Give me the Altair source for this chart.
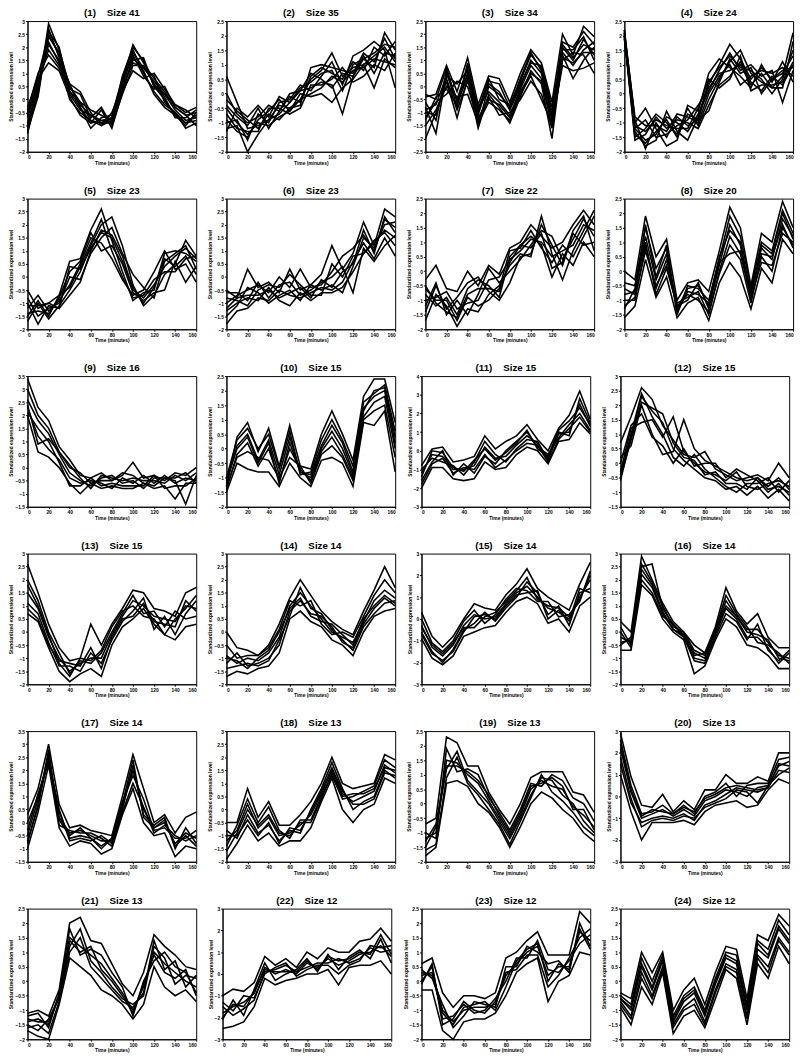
import altair as alt
import pandas as pd

TIMES = [0, 10, 20, 30, 40, 50, 60, 70, 80, 90, 100, 110, 120, 130, 140, 150, 160]

P01 = [
    [-1.3, 0.3, 2.9, 1.9, 0.5, -0.1, -0.8, -0.9, -0.9, 0.6, 1.8, 1.2, 0.7, 0.2, -0.4, -0.8, -0.7],
    [-0.5, 0.9, 2.5, 1.7, 0.2, -0.4, -0.6, -0.9, -0.7, 0.7, 2.1, 1.4, 0.8, 0.3, -0.3, -0.6, -0.5],
    [-0.9, 0.5, 2.2, 1.4, 0.6, 0.3, -0.5, -1.0, -0.8, 0.4, 1.5, 1.6, 0.5, 0.0, -0.6, -0.9, -0.8],
    [-0.3, 0.8, 1.4, 1.1, 0.1, -0.6, -0.9, -0.4, -1.1, 0.3, 1.1, 0.8, 1.0, 0.4, -0.2, -0.5, -0.3],
    [-1.1, 0.2, 2.6, 2.0, 0.3, -0.3, -1.1, -0.7, -0.6, 0.8, 1.9, 1.0, 0.3, -0.2, -0.5, -1.1, -0.9],
    [-0.7, 0.6, 1.9, 1.3, 0.4, 0.2, -0.7, -0.3, -1.0, 0.2, 1.3, 1.3, 0.6, 0.1, -0.7, -0.7, -0.4],
    [-1.0, 0.4, 2.4, 1.8, 0.5, -0.2, -0.6, -0.8, -0.9, 0.6, 1.7, 0.9, 0.4, 0.5, -0.3, -0.6, -1.0],
    [-0.6, 0.7, 2.1, 1.5, 0.0, -0.5, -0.8, -1.0, -0.5, 0.5, 1.4, 1.2, 0.9, -0.1, -0.5, -0.9, -0.6],
    [-0.4, 1.0, 1.7, 1.2, 0.3, -0.1, -0.4, -0.6, -0.8, 0.9, 2.0, 1.5, 0.5, 0.2, -0.2, -0.4, -0.7],
    [-1.2, 0.1, 2.7, 1.6, 0.6, -0.3, -0.9, -0.8, -0.7, 0.3, 1.6, 1.1, 0.2, -0.3, -0.6, -1.0, -0.5],
]
P02 = [
    [0.6, -0.3, -1.2, -1.1, -0.9, -0.4, -0.5, -0.2, 0.5, 0.8, 1.4, 0.6, 0.9, 1.0, 1.3, 1.6, 1.1],
    [-1.2, -1.1, -2.0, -1.4, -0.9, -0.7, -0.3, 0.1, 0.2, 0.4, 0.3, -0.7, 0.6, 1.2, 0.9, 2.1, 1.5],
    [-0.4, -0.8, -1.1, -0.5, -1.2, -0.6, -0.1, -0.3, 0.6, 0.9, 0.7, 0.5, 1.1, 0.8, 1.6, 1.3, 1.8],
    [-0.9, -1.3, -1.5, -0.9, -0.6, -0.2, -0.6, 0.0, -0.1, 0.0, -0.3, 0.2, 0.5, 1.0, 0.2, 1.2, 0.9],
    [-0.2, -0.6, -0.9, -1.2, -0.7, -0.9, -0.5, -0.4, 0.9, 1.0, 0.9, 0.8, 0.7, 1.4, 1.1, 1.9, 1.2],
    [-1.0, -0.9, -1.6, -0.7, -1.0, -0.3, -0.2, 0.3, 0.1, 0.6, 1.1, 0.3, 1.3, 1.5, 1.8, 1.5, 0.2],
    [-0.7, -1.2, -1.3, -1.3, -0.5, -0.5, -0.7, -0.5, 0.3, 0.3, 0.5, 0.9, 0.4, 0.6, 1.0, 0.8, 1.4],
    [-1.3, -0.5, -0.8, -0.4, -0.8, -0.1, -0.3, 0.2, 0.4, 0.7, 0.8, 0.1, 1.0, 1.2, 1.4, 1.7, 1.6],
    [-0.5, -1.0, -1.4, -1.0, -1.1, -0.8, -0.6, -0.2, 0.0, 0.2, 0.6, 0.4, 0.8, 0.9, 1.2, 1.1, 1.0],
    [0.0, -0.7, -1.0, -0.8, -0.4, -0.6, 0.0, 0.1, 0.7, 0.5, 0.2, 0.7, 0.6, 1.3, 0.7, 1.4, 1.3],
]
P03 = [
    [-0.4, -0.3, 0.8, -0.2, 1.1, -0.7, 0.4, 0.3, -0.6, 0.5, 1.4, 0.9, -0.6, 2.0, 1.2, 2.3, 1.9],
    [-2.0, -1.0, 0.2, -1.2, 0.3, -1.6, -0.3, -0.8, -1.4, -0.4, 0.6, 0.1, -2.0, 1.2, 0.3, 1.0, 1.5],
    [-0.8, -1.8, 0.5, -0.5, 0.7, -1.0, 0.1, -0.2, -0.9, 0.0, 1.0, 0.5, -1.2, 1.5, 1.0, 1.8, 1.2],
    [-1.2, -0.6, -0.3, 0.2, 0.0, -1.3, -0.4, -1.1, -1.0, -0.5, 0.2, -0.3, -1.6, 1.0, 1.3, 1.2, 0.5],
    [-0.6, -1.3, 0.6, -0.8, 0.9, -0.9, 0.3, -0.5, -0.7, 0.2, 1.2, 0.7, -1.0, 1.7, 1.5, 2.1, 1.6],
    [-1.5, -0.9, 0.0, -0.4, -0.3, -1.4, -0.6, -0.9, -1.3, -0.3, 0.4, -0.5, -1.4, 0.8, 0.6, 0.7, 0.9],
    [-0.3, -0.5, 0.7, -0.6, 0.5, -1.1, 0.2, 0.1, -0.8, 0.3, 1.3, 0.6, -1.1, 1.6, 1.1, 1.6, 1.4],
    [-1.0, -1.1, 0.3, -0.9, 0.2, -0.8, -0.2, -0.6, -1.1, -0.1, 0.8, 0.3, -1.3, 1.3, 0.8, 1.4, 1.7],
    [-0.9, -0.7, 0.4, 0.1, 0.6, -1.5, 0.0, -0.3, -0.8, 0.1, 0.9, 0.8, -0.8, 1.4, 1.4, 1.9, 1.0],
    [-1.3, -0.4, -0.1, -0.7, 0.4, -1.2, -0.5, -0.7, -1.2, -0.2, 0.5, 0.2, -1.5, 1.1, 0.9, 1.3, 1.3],
]
P04 = [
    [2.2, -0.9, -1.9, -1.0, -1.5, -0.8, -1.1, -0.9, 0.3, 1.0, 1.7, 1.2, 0.5, 0.9, 0.5, 0.7, 1.3],
    [2.0, -1.5, -1.2, -0.7, -1.0, -1.4, -0.5, -1.1, -0.2, 0.5, 1.1, 1.5, 0.7, 0.4, 0.2, 0.6, 2.1],
    [1.9, -1.2, -1.6, -1.4, -0.8, -1.0, -1.3, -0.7, 0.1, 0.8, 1.4, 0.8, 1.0, 0.6, 0.8, -0.3, 0.8],
    [2.1, -1.0, -0.5, -1.2, -1.8, -1.6, -0.4, -0.6, 0.7, 1.2, 0.9, 0.6, 0.2, 1.0, 0.4, 1.1, 0.4],
    [2.0, -1.6, -1.4, -0.8, -1.2, -0.9, -1.0, -1.2, -0.4, 0.3, 0.6, 1.1, 0.4, 0.1, 0.6, 0.3, 1.0],
    [2.2, -1.3, -1.8, -1.6, -0.6, -1.3, -1.6, -0.8, 0.4, 0.9, 1.3, 0.9, 0.8, 0.5, 0.0, 0.5, 1.5],
    [2.1, -0.8, -1.1, -1.1, -1.3, -0.7, -0.8, -1.0, 0.0, 0.6, 1.0, 0.3, 0.6, 0.8, 0.7, 0.9, 0.6],
    [1.9, -1.1, -1.3, -0.9, -1.1, -1.2, -1.2, -0.5, 0.5, 0.2, 0.5, 1.3, 0.1, 0.3, 0.3, 0.4, 1.1],
    [2.1, -1.4, -1.7, -1.3, -0.9, -1.5, -0.7, -0.9, -0.6, 0.4, 1.2, 0.7, 0.9, 0.0, 0.5, 0.8, 0.9],
    [2.0, -1.2, -0.9, -1.5, -1.4, -1.1, -0.9, -0.4, 0.2, 0.7, 0.8, 1.0, 0.3, 0.7, 0.2, 0.2, 1.8],
]
P05 = [
    [-0.5, -1.2, -1.0, -0.7, 0.6, 0.7, 1.8, 2.6, 1.4, 0.2, -0.9, -0.6, -0.5, 0.9, 1.0, 0.9, 0.6],
    [-1.7, -1.0, -1.6, -1.1, -0.5, 0.2, 1.2, 2.0, 2.3, 1.2, -0.3, -1.1, -0.7, 0.1, 0.5, 1.4, 0.8],
    [-1.2, -0.7, -1.3, -0.9, -0.3, 0.5, 1.5, 1.3, 0.7, -0.1, -0.7, -0.5, 0.2, 1.0, 0.3, 0.5, -0.2],
    [-1.0, -1.8, -1.1, -1.2, -0.7, -0.2, 1.0, 1.8, 1.6, 0.8, -0.5, -0.8, -0.3, 0.4, 0.8, 1.1, 0.7],
    [-1.4, -1.3, -1.4, -0.8, 0.2, 0.6, 1.7, 1.0, 1.2, 0.5, -0.6, -0.9, -0.6, -0.5, 0.6, -0.2, 0.4],
    [-0.8, -1.5, -1.2, -1.0, 0.0, -0.1, 0.9, 1.5, 1.9, 0.9, 0.1, -0.4, -0.8, 0.6, 0.9, 1.2, 0.3],
    [-1.5, -0.9, -1.5, -0.7, -0.4, 0.4, 1.3, 2.2, 1.0, 0.0, -0.8, -0.7, -0.1, 0.2, 0.2, 0.7, 0.8],
    [-1.1, -1.1, -1.0, -1.2, 0.4, 0.3, 1.1, 1.7, 1.5, 0.6, -0.4, -1.0, -0.4, 0.7, 0.4, 0.8, 0.1],
]
P06 = [
    [-0.5, -0.8, 0.3, -0.4, -0.2, -0.6, 0.3, -0.5, -0.3, 0.1, 1.2, 0.3, 0.9, 2.1, 1.2, 2.6, 2.3],
    [-1.8, -1.3, -1.2, -0.8, -0.9, -0.5, -0.7, -0.8, -0.6, -0.4, -0.5, -0.2, 0.6, 1.3, 0.7, 1.5, 0.8],
    [-1.0, -0.7, -0.5, -0.3, -0.6, 0.0, -0.4, 0.3, -0.4, -0.3, 0.2, 0.8, 1.1, 1.6, 1.0, 2.2, 1.9],
    [-1.3, -1.0, -0.8, -0.9, -0.4, -0.9, -1.1, -0.6, -0.9, -0.6, -0.6, -0.4, 0.2, 0.9, 1.3, 1.8, 1.5],
    [-0.6, -0.6, -0.9, -0.2, -0.8, -0.3, -0.2, -0.7, -0.5, -0.2, 0.0, 0.4, -0.6, 1.1, 0.6, 1.2, 1.6],
    [-1.5, -1.1, -0.4, -0.6, -1.0, -0.7, -0.5, -0.9, -0.3, -0.5, -0.3, -0.6, 0.4, 1.5, 1.1, 2.0, 2.1],
    [-0.8, -0.9, -1.1, -0.5, -0.3, -0.4, 0.1, -0.3, -0.7, -0.7, 0.5, 0.0, 0.8, 0.9, 1.4, 1.7, 1.2],
    [-1.2, -0.8, -0.7, -0.7, -0.5, -0.8, -0.6, -0.4, -0.8, -0.1, -0.4, 0.2, 0.5, 1.8, 0.9, 2.3, 1.7],
]
P07 = [
    [-0.3, 0.2, -0.6, -0.7, 0.0, -0.5, 0.2, -0.1, 0.8, 1.0, 1.6, 1.2, 0.8, 1.0, 1.6, 2.1, 1.6],
    [-1.7, -0.8, -1.2, -1.9, -1.3, -1.4, -0.8, -0.5, 0.2, 0.6, 0.5, 1.9, 0.6, -0.3, 0.7, 1.4, 2.1],
    [-0.8, -1.2, -0.9, -1.5, -0.6, -0.3, -0.5, -0.9, 0.5, 0.9, 1.2, 0.9, -0.2, 0.6, 0.2, 1.0, 0.5],
    [-1.2, -0.4, -1.5, -1.0, -1.5, -0.8, 0.1, -0.4, 0.0, 0.4, 0.9, 1.4, 1.2, 0.4, 1.1, 1.8, 1.2],
    [-0.6, -1.0, -1.0, -1.7, -0.9, -1.2, -1.0, -0.6, 0.7, 0.8, 1.4, 0.8, 0.3, 0.9, 0.5, 1.2, 1.9],
    [-1.4, -0.5, -1.3, -0.9, -0.4, -0.2, -0.7, -1.0, -0.4, 0.5, 0.6, 1.6, 0.9, 0.2, 1.3, 0.9, 1.0],
    [-1.0, -0.9, -0.7, -1.3, -1.1, -1.0, -0.3, -0.2, 0.4, 0.7, 1.1, 1.0, 0.5, 0.7, 0.9, 1.6, 1.4],
    [-0.5, -1.1, -1.4, -1.6, -0.8, -0.6, -0.6, -0.7, 0.3, 0.9, 0.8, 1.3, 0.1, 0.3, 1.4, 1.9, 0.7],
]
P08 = [
    [0.0, -0.3, 1.9, 0.5, 1.1, -1.0, -0.4, -0.3, -0.7, 0.7, 2.2, 1.5, -0.5, 1.3, 1.0, 2.4, 1.5],
    [-1.6, -1.2, 0.4, -0.9, -0.2, -1.6, -1.1, -0.9, -1.7, -0.4, 0.3, -0.2, -1.3, 0.1, -0.4, 1.1, 0.6],
    [-0.8, -0.7, 1.2, -0.3, 0.6, -1.3, -0.6, -0.5, -1.2, 0.2, 1.6, 0.9, -0.8, 0.8, 0.4, 1.8, 1.2],
    [-1.2, -0.9, 0.7, -0.5, 0.2, -1.2, -0.8, -1.0, -1.4, -0.1, 0.9, 0.4, -1.1, 0.5, 0.0, 1.5, 0.9],
    [-0.4, -0.5, 1.5, 0.1, 0.8, -1.5, -0.5, -0.6, -1.0, 0.4, 1.9, 1.2, -0.6, 1.0, 0.7, 2.1, 1.3],
    [-1.0, -1.0, 0.9, -0.6, 0.4, -1.1, -0.9, -0.7, -1.5, 0.0, 1.2, 0.6, -0.9, 0.3, 0.2, 1.3, 1.0],
    [-0.6, -0.8, 1.6, -0.2, 0.9, -1.4, -0.7, -0.8, -1.1, 0.5, 1.4, 1.0, -1.0, 0.9, 0.6, 2.0, 1.1],
    [-1.3, -0.6, 1.0, -0.8, 0.1, -1.2, -1.0, -0.4, -1.3, 0.3, 0.6, 0.7, -0.7, 0.6, 0.5, 1.6, 0.8],
]
P09 = [
    [3.4, 2.3, 1.8, 0.8, 0.3, -0.3, -0.4, -0.2, -0.5, -0.3, 0.2, -0.4, -0.3, -0.5, -0.2, -0.3, 0.0],
    [2.0, 0.6, 0.4, 0.0, -0.6, -1.0, -0.6, -0.8, -0.7, -0.8, -0.8, -0.6, -0.8, -0.7, -1.2, -0.6, -0.6],
    [2.6, 1.8, 1.3, 0.5, -0.2, -0.5, -0.7, -0.4, -0.3, -0.6, -0.5, -0.8, -0.4, -0.4, -0.5, -1.4, -0.3],
    [2.3, 1.2, 0.7, 0.3, -0.4, -0.6, -0.5, -0.6, -0.8, -0.4, -0.6, -0.3, -0.6, -0.3, -0.6, -0.4, -0.5],
    [3.0, 2.0, 1.5, 0.6, 0.1, -0.4, -0.8, -0.3, -0.4, -0.5, -0.4, -0.5, -0.5, -0.6, -0.3, -0.5, -0.2],
    [2.1, 1.5, 1.0, 0.2, -0.7, -0.7, -0.4, -0.7, -0.6, -0.7, -0.7, -0.7, -0.3, -0.8, -0.7, -0.7, -0.4],
    [2.4, 0.9, 1.1, 0.6, 0.0, -0.2, -0.6, -0.5, -0.5, -0.2, -0.3, -0.6, -0.7, -0.4, -0.4, -0.2, -0.6],
]
P10 = [
    [-1.3, 0.4, 0.9, -0.1, 0.7, -0.6, 0.8, -0.6, -0.7, 0.5, 1.3, 0.5, -0.4, 1.8, 2.4, 2.4, 0.9],
    [-1.5, -0.5, -0.7, -0.8, -0.8, -1.3, -0.5, -1.0, -1.3, -0.4, -0.3, -0.5, -1.3, 0.9, 0.8, 1.3, -0.8],
    [-1.2, 0.1, 0.5, -0.4, 0.3, -0.9, 0.4, -0.8, -0.9, 0.1, 0.8, 0.2, -0.8, 1.3, 2.0, 2.1, 0.4],
    [-1.4, -0.2, 0.2, -0.6, 0.0, -1.1, 0.0, -0.7, -1.1, -0.1, 0.4, -0.2, -1.0, 1.1, 1.6, 1.8, 0.0],
    [-1.0, 0.3, 0.7, 0.0, 0.5, -0.7, 0.6, -0.9, -0.8, 0.3, 1.0, 0.3, -0.6, 1.6, 1.9, 2.2, 0.6],
    [-1.3, -0.3, -0.1, -0.3, -0.4, -1.0, -0.3, -0.6, -1.2, -0.2, 0.1, -0.3, -1.1, 1.0, 1.3, 1.5, -0.3],
    [-1.1, 0.0, 0.4, -0.5, 0.2, -1.2, 0.2, -0.8, -1.0, 0.0, 0.6, 0.0, -0.9, 1.4, 1.8, 2.0, 0.2],
]
P11 = [
    [-0.8, 0.1, 0.2, -0.6, -0.5, -0.3, 0.8, 0.1, 0.5, 0.8, 1.4, 0.6, 0.0, 1.2, 1.9, 3.2, 1.7],
    [-2.0, -0.9, -0.9, -1.5, -1.6, -1.5, -0.6, -1.0, -0.9, -0.2, 0.2, 0.0, -0.7, 0.5, 0.6, 1.5, 0.9],
    [-1.2, -0.2, -0.3, -1.0, -1.0, -0.8, 0.2, -0.4, -0.3, 0.3, 0.8, 0.4, -0.4, 0.9, 1.0, 2.5, 1.3],
    [-1.6, -0.6, 0.0, -1.3, -0.7, -1.2, -0.3, -0.7, 0.0, 0.5, 1.0, 0.2, -0.2, 0.7, 1.4, 2.0, 1.1],
    [-1.0, -0.4, -0.6, -0.8, -1.3, -0.6, 0.5, -0.2, -0.6, 0.1, 0.6, 0.5, -0.5, 1.0, 0.8, 2.8, 1.5],
    [-1.8, -0.7, -0.4, -1.2, -0.9, -1.0, -0.2, -0.9, -0.5, 0.0, 0.4, 0.3, -0.6, 0.6, 1.2, 1.8, 1.0],
    [-1.4, 0.0, -0.1, -0.9, -1.1, -0.5, 0.1, -0.5, -0.1, 0.4, 1.1, 0.1, -0.3, 1.1, 1.6, 2.3, 1.4],
]
P12 = [
    [0.7, 1.6, 2.6, 2.2, 1.3, 0.8, 0.3, 0.2, 0.4, -0.2, -0.4, -0.6, -0.5, -0.4, -0.6, 0.0, -0.5],
    [-0.6, 0.9, 2.3, 1.8, 1.4, 0.5, 0.1, -0.2, -0.5, -0.6, -0.9, -0.8, -1.1, -0.8, -1.2, -0.9, -1.3],
    [-0.3, 1.2, 1.4, 1.5, 0.9, 1.6, 0.4, 0.0, -0.3, -0.4, -0.6, -0.3, -0.8, -0.9, -0.7, -0.6, -0.8],
    [0.2, 0.6, 2.0, 1.0, 0.3, 0.4, 1.5, 0.5, 0.1, -0.1, -0.3, -0.5, -0.6, -0.5, -0.9, -0.8, -1.0],
    [-0.4, 1.0, 2.4, 1.6, 1.0, 0.2, -0.1, 0.3, -0.2, -0.5, -0.8, -1.0, -0.7, -0.7, -0.5, -1.0, -0.6],
    [0.0, 1.3, 1.7, 0.9, 0.6, 0.0, 0.5, -0.1, 0.0, 0.0, -0.5, -0.2, -0.4, -0.6, -1.0, -0.7, -1.1],
    [-0.5, 0.8, 2.1, 1.9, 1.7, 0.7, 0.2, 0.1, -0.4, -0.3, -0.7, -0.7, -0.9, -0.5, -0.8, -0.5, -0.9],
]
P13 = [
    [2.6, 1.5, 0.3, -0.6, -1.1, -1.0, 0.3, -0.5, 0.3, 0.9, 1.6, 1.5, 0.9, 0.8, 0.6, 1.5, 1.7],
    [0.7, 0.4, -0.6, -1.5, -1.9, -1.6, -1.4, -1.7, -0.5, 0.2, 0.5, 0.9, 0.3, -0.1, -0.3, 0.2, 0.3],
    [1.5, 0.9, -0.2, -1.0, -1.5, -1.2, -1.0, -1.0, -0.1, 0.6, 1.2, 1.0, 0.6, 0.5, 0.4, 1.0, 0.9],
    [1.1, 0.7, -0.4, -1.3, -1.3, -1.5, -0.8, -1.2, -0.3, 0.4, 0.8, 1.3, 0.1, 0.6, -0.1, 0.7, 1.2],
    [2.0, 1.2, 0.0, -0.8, -1.6, -1.1, -1.2, -0.8, 0.0, 0.7, 1.4, 0.7, 0.8, 0.2, 0.8, 0.5, 0.6],
    [0.9, 0.5, -0.5, -1.1, -1.2, -1.3, -0.6, -1.4, -0.2, 0.5, 0.6, 1.1, 0.4, 0.3, 0.2, 1.2, 0.8],
    [1.8, 1.0, -0.1, -1.2, -1.7, -1.0, -1.1, -0.7, 0.2, 0.8, 1.0, 0.6, 0.5, -0.1, 0.5, 0.9, 1.4],
]
P14 = [
    [0.0, -0.6, -0.7, -0.9, -0.5, 0.3, 1.3, 2.0, 1.4, 0.8, 0.4, 0.1, -0.1, 0.8, 1.6, 2.5, 1.7],
    [-1.7, -1.5, -1.6, -1.4, -1.3, -0.8, 0.5, 0.8, 0.4, 0.2, -0.3, -0.5, -0.9, 0.0, 0.6, 0.8, 0.9],
    [-0.9, -1.2, -1.0, -1.1, -0.8, -0.2, 1.0, 1.5, 1.0, 0.5, 0.0, -0.2, -0.4, 0.4, 1.2, 1.6, 1.3],
    [-1.2, -0.8, -1.3, -1.2, -1.0, -0.5, 0.8, 1.2, 0.7, 0.6, 0.2, -0.4, -0.6, 0.3, 0.9, 1.3, 1.0],
    [-0.5, -1.0, -0.9, -0.9, -0.6, 0.1, 1.2, 1.0, 1.2, 0.3, -0.1, 0.0, -0.2, 0.6, 1.4, 2.0, 1.5],
    [-1.4, -1.3, -1.2, -1.3, -1.1, -0.3, 0.6, 1.7, 0.9, 0.7, 0.1, -0.3, -0.7, 0.2, 0.7, 1.1, 1.2],
    [-1.0, -1.1, -1.4, -1.0, -0.7, 0.0, 0.9, 1.3, 0.6, 0.4, 0.3, -0.1, -0.5, 0.5, 1.0, 1.4, 1.1],
]
P15 = [
    [0.3, -0.8, -1.3, -0.8, 0.0, 0.7, 0.5, 0.4, 1.1, 1.6, 2.3, 1.4, 1.0, 0.7, 0.4, 1.6, 2.6],
    [-0.9, -1.8, -2.1, -1.7, -0.8, -0.6, -0.4, -0.3, 0.3, 0.8, 1.0, 0.7, -0.2, 0.0, -0.6, 0.6, 1.0],
    [-0.3, -1.3, -1.7, -1.2, -0.3, 0.2, 0.0, 0.1, 0.7, 1.2, 1.5, 1.0, 0.5, 0.3, 0.0, 1.0, 1.8],
    [-0.6, -1.5, -2.0, -1.4, -0.5, -0.2, 0.3, -0.1, 0.5, 1.0, 1.7, 1.2, 0.2, 0.6, -0.3, 1.2, 1.4],
    [0.0, -1.1, -1.5, -1.0, -0.1, 0.4, -0.2, 0.2, 0.9, 1.4, 1.3, 0.8, 0.8, 0.1, 0.2, 0.8, 2.2],
    [-0.7, -1.6, -1.9, -1.5, -0.6, 0.1, 0.2, 0.0, 0.6, 1.1, 1.2, 1.3, 0.0, 0.4, -0.1, 1.4, 1.2],
    [-0.4, -1.2, -1.6, -1.1, -0.4, -0.4, 0.1, 0.3, 0.8, 1.3, 1.9, 0.9, 0.6, 0.5, 0.1, 0.9, 2.0],
]
P16 = [
    [0.4, 0.0, 2.9, 2.0, 1.1, 0.4, 0.0, -0.5, -0.8, 0.2, 1.7, 0.8, 0.3, 0.7, -0.2, -0.6, -0.6],
    [-0.7, -0.7, 1.8, 1.4, 0.5, 0.0, -0.3, -1.6, -1.3, -0.3, 0.5, 0.2, -0.5, -0.6, -0.9, -1.4, -1.4],
    [-0.2, -0.4, 2.5, 2.6, 0.9, 0.3, -0.1, -0.8, -1.0, 0.0, 1.2, 0.6, 0.1, 0.1, -0.4, -0.9, -1.0],
    [0.0, -0.6, 2.2, 1.7, 0.7, 0.1, -0.2, -1.1, -1.2, -0.1, 0.9, 0.5, -0.2, -0.2, -0.6, -1.2, -0.8],
    [-0.5, -0.2, 2.6, 1.9, 1.0, 0.2, 0.0, -0.7, -0.9, 0.1, 1.4, 0.7, 0.2, -0.4, -0.5, -0.8, -1.2],
    [0.2, -0.5, 2.0, 1.5, 0.6, 0.3, -0.2, -1.0, -1.1, -0.2, 0.7, 0.4, -0.3, 0.3, -0.7, -1.1, -0.7],
    [-0.4, -0.3, 2.4, 1.8, 0.8, 0.1, -0.1, -0.9, -0.8, 0.0, 1.0, 0.6, 0.0, -0.1, -0.3, -1.0, -1.1],
]
P17 = [
    [0.3, 1.3, 3.0, 0.7, -0.2, -0.1, -0.3, -0.4, -0.5, 1.0, 2.6, 1.3, 0.0, 0.3, -0.4, 0.2, 0.4],
    [-1.0, 0.4, 2.2, -0.2, -0.9, -0.7, -0.8, -1.2, -1.0, 0.3, 1.3, 0.0, -0.5, -0.4, -1.3, -0.9, -1.0],
    [-0.5, 0.9, 2.6, 0.2, -0.4, -0.3, -0.5, -0.7, -0.7, 0.6, 2.0, 0.5, -0.2, 0.0, -0.8, -0.4, -0.6],
    [0.0, 1.0, 2.4, 0.4, -0.6, -0.5, -0.6, -0.9, -0.6, 0.8, 1.8, 0.9, -0.3, -0.2, -0.6, -0.6, -0.3],
    [-0.7, 0.6, 2.8, -0.1, -0.3, -0.4, -0.4, -0.6, -0.9, 0.5, 2.2, 0.3, -0.1, 0.2, -1.0, -0.2, -0.8],
    [-0.3, 1.1, 2.3, 0.5, -0.7, -0.6, -0.7, -0.5, -0.8, 0.4, 1.5, 0.6, -0.4, -0.1, -0.5, -0.7, -0.5],
    [-0.8, 0.7, 2.5, 0.1, -0.5, -0.2, -0.6, -1.0, -0.6, 0.7, 2.4, 0.2, -0.2, 0.1, -0.9, -0.5, -0.9],
]
P18 = [
    [-0.5, -0.5, 0.8, -0.3, 0.3, -0.6, -0.6, -0.2, 0.3, 1.0, 2.0, 1.0, 0.8, 0.9, 1.0, 2.1, 1.9],
    [-1.9, -1.3, -0.6, -1.2, -0.9, -1.4, -1.2, -1.2, -0.7, 0.3, 1.2, 0.0, -0.5, 0.0, 0.2, 1.2, 1.0],
    [-1.2, -0.8, 0.2, -0.7, -0.3, -1.0, -0.9, -0.6, -0.2, 0.6, 1.5, 0.6, 0.3, 0.5, 0.7, 1.7, 1.4],
    [-0.8, -1.1, -0.2, -0.9, -0.6, -1.2, -0.8, -0.9, 0.0, 0.8, 1.8, 0.8, 0.0, 0.3, 0.5, 1.5, 1.2],
    [-1.4, -0.6, 0.4, -0.5, 0.1, -0.8, -1.1, -0.4, -0.4, 0.5, 1.3, 0.4, 0.5, 0.7, 0.9, 1.9, 1.6],
    [-1.0, -1.0, -0.4, -1.0, -0.5, -1.3, -0.7, -0.8, -0.1, 0.7, 1.6, 0.7, 0.2, 0.2, 0.4, 1.4, 1.3],
    [-1.6, -0.9, 0.0, -0.6, -0.2, -0.9, -1.0, -0.5, -0.5, 0.4, 1.4, 0.5, 0.6, 0.6, 0.8, 1.6, 1.5],
]
P19 = [
    [-0.7, -0.5, 2.3, 2.1, 1.3, 1.3, 0.4, -0.2, -0.7, 0.0, 0.9, 1.1, 1.1, 1.1, 0.4, 0.3, -0.3],
    [-1.8, -1.5, 0.7, 0.8, 0.6, 0.0, -0.3, -0.8, -1.5, -0.8, 0.0, 0.4, 0.2, -0.2, -0.5, -1.0, -1.3],
    [-1.2, -1.0, 1.5, 1.4, 1.0, 0.7, 0.1, -0.5, -1.1, -0.4, 0.5, 0.8, 0.6, 0.5, -0.1, -0.4, -0.8],
    [-1.5, -0.8, 1.2, 1.8, 0.8, 0.4, 0.0, -0.6, -1.2, -0.5, 0.3, 0.9, 0.8, 0.3, 0.0, -0.6, -1.0],
    [-1.0, -1.2, 1.9, 1.1, 1.2, 1.0, 0.2, -0.3, -0.9, -0.2, 0.7, 0.6, 1.0, 0.8, 0.2, 0.0, -0.6],
    [-1.6, -1.4, 0.9, 1.6, 0.7, 0.3, -0.2, -0.7, -1.4, -0.6, 0.2, 1.0, 0.4, 0.1, -0.3, -0.8, -1.1],
    [-1.3, -0.7, 1.3, 1.3, 1.1, 0.8, 0.3, -0.4, -1.0, -0.3, 0.6, 0.7, 0.9, 0.6, -0.2, -0.2, -0.9],
]
P20 = [
    [2.9, 0.9, -0.4, -0.5, 0.1, -0.7, -0.2, -0.6, 0.3, 0.3, 1.0, 0.6, 0.6, 0.9, 0.7, 2.0, 2.0],
    [1.0, -0.7, -2.0, -1.2, -1.2, -1.2, -1.1, -1.3, -0.7, -0.4, -0.3, -0.2, -0.5, -0.4, 0.3, 0.8, 0.6],
    [2.2, 0.2, -1.0, -0.8, -0.6, -0.9, -0.6, -0.9, -0.2, 0.0, 0.3, 0.2, 0.0, 0.4, 0.5, 1.4, 1.6],
    [1.5, -0.3, -1.2, -1.0, -0.9, -1.0, -0.8, -1.1, -0.4, -0.2, 0.1, 0.4, 0.3, 0.2, 0.4, 1.2, 1.1],
    [2.6, 0.5, -0.8, -0.7, -0.4, -0.8, -0.4, -0.8, 0.0, 0.2, 0.6, 0.0, 0.5, 0.6, 0.6, 1.7, 1.8],
    [1.8, -0.1, -1.4, -1.1, -1.0, -1.1, -0.9, -1.0, -0.5, -0.3, -0.1, 0.3, 0.2, -0.3, 0.5, 1.0, 1.3],
    [2.4, 0.3, -0.9, -0.6, -0.7, -0.8, -0.5, -0.7, -0.1, 0.1, 0.4, 0.5, 0.4, 0.3, 0.4, 1.5, 1.4],
]
P21 = [
    [-1.1, -1.0, -1.2, -0.3, 2.0, 2.2, 1.4, 1.3, 0.6, -0.1, -0.5, 0.3, 1.6, 1.2, 0.9, 0.5, 0.4],
    [-1.7, -1.9, -2.0, -0.8, 0.8, 0.5, 0.2, -0.3, -0.5, -0.8, -1.3, -0.8, 0.5, -0.2, -0.5, -0.3, -0.7],
    [-1.4, -1.3, -1.5, -0.5, 1.5, 1.2, 0.9, 0.6, 0.1, -0.4, -1.0, -0.2, 1.0, 0.6, 0.3, 0.0, -0.2],
    [-1.5, -1.7, -1.3, -0.6, 1.2, 1.8, 0.7, 0.3, -0.2, -0.6, -0.8, -0.5, 1.2, 0.8, -0.1, 0.2, 0.1],
    [-1.2, -1.1, -1.6, -0.4, 1.8, 0.9, 1.1, 0.9, 0.3, -0.2, -1.2, 0.0, 0.7, 1.0, 0.5, 0.3, -0.4],
    [-1.6, -1.5, -1.8, -0.7, 1.0, 1.5, 0.5, 0.1, -0.3, -0.7, -0.9, -0.4, 1.4, 0.4, 0.7, -0.2, 0.2],
    [-1.3, -1.4, -1.4, -0.5, 1.4, 1.0, 1.2, 0.4, 0.0, -0.5, -1.1, -0.1, 0.9, 0.3, 0.1, 0.4, -0.5],
]
P22 = [
    [-1.0, -0.7, -0.8, -0.4, 0.8, 0.4, 0.7, 0.3, 1.0, 0.7, 1.2, 1.0, 1.0, 1.5, 1.6, 2.1, 1.5],
    [-2.5, -2.4, -2.2, -1.5, -0.2, -0.5, -0.3, -0.2, 0.0, 0.0, 0.2, -0.5, 0.3, 0.4, 0.4, 0.6, 0.0],
    [-1.8, -1.5, -1.3, -0.9, 0.3, 0.0, 0.2, 0.0, 0.5, 0.3, 0.7, 0.4, 0.6, 0.9, 1.0, 1.3, 0.8],
    [-1.5, -1.9, -1.6, -1.2, 0.1, 0.2, 0.4, 0.1, 0.3, 0.5, 0.5, 0.7, 0.5, 0.7, 1.2, 1.0, 1.1],
    [-2.1, -1.2, -1.9, -0.7, 0.5, -0.3, 0.0, 0.2, 0.7, 0.1, 0.9, 0.2, 0.8, 1.1, 0.7, 1.6, 0.5],
    [-1.3, -1.7, -1.0, -1.1, 0.0, 0.3, 0.5, -0.1, 0.2, 0.4, 0.4, 0.0, 0.4, 0.6, 1.3, 1.2, 1.3],
    [-2.0, -1.4, -1.5, -0.8, 0.2, 0.1, 0.1, 0.1, 0.6, 0.2, 0.8, 0.6, 0.7, 1.0, 0.9, 1.8, 0.9],
]
P23 = [
    [0.6, 0.8, -0.4, -0.9, -0.5, -0.5, -0.6, -0.4, 0.8, 1.0, 1.4, 1.7, 0.9, 0.9, 0.9, 2.4, 2.0],
    [-0.3, -0.3, -1.7, -2.0, -1.4, -1.3, -1.3, -1.1, -0.5, 0.3, 0.6, 0.8, -0.7, 0.0, 0.2, 1.0, 0.9],
    [0.2, 0.3, -1.0, -1.4, -1.0, -0.9, -0.9, -0.8, 0.2, 0.6, 1.0, 1.2, 0.2, 0.5, 0.5, 1.7, 1.4],
    [0.0, 0.5, -1.3, -1.2, -0.8, -1.1, -1.0, -0.6, 0.0, 0.8, 0.8, 1.4, 0.4, 0.3, 0.7, 1.3, 1.6],
    [0.4, 0.1, -0.8, -1.6, -1.2, -0.7, -0.8, -0.9, 0.5, 0.5, 1.2, 1.0, 0.6, 0.7, 0.3, 2.0, 1.2],
    [-0.1, 0.6, -1.5, -1.3, -0.7, -1.0, -1.1, -0.7, 0.3, 0.4, 0.9, 0.9, -0.2, 0.2, 0.8, 1.5, 1.8],
    [0.3, 0.2, -1.1, -1.5, -0.9, -0.8, -0.7, -1.0, -0.2, 0.7, 1.1, 1.3, 0.0, 0.6, 0.4, 1.8, 1.1],
]
P24 = [
    [-0.4, -0.6, 1.0, 0.3, 1.0, -1.0, -0.3, 0.1, -0.8, 0.3, 1.2, 1.1, -0.6, 1.6, 1.4, 2.3, 1.9],
    [-0.9, -1.5, -0.2, -0.8, 0.3, -1.8, -1.2, -1.0, -1.6, -0.6, 0.4, 0.1, -1.5, 0.6, 0.1, 1.2, 0.6],
    [-0.6, -1.0, 0.5, -0.3, 0.7, -1.4, -0.7, -0.4, -1.2, -0.1, 0.8, 0.6, -1.0, 1.1, 0.8, 1.8, 1.3],
    [-0.7, -1.2, 0.3, -0.5, 0.5, -1.5, -0.9, -0.6, -1.4, -0.3, 0.6, 0.4, -1.2, 0.9, 0.5, 1.5, 1.0],
    [-0.5, -0.8, 0.8, 0.0, 0.9, -1.2, -0.5, -0.2, -1.0, 0.1, 1.0, 0.9, -0.8, 1.4, 1.1, 2.1, 1.6],
    [-0.8, -1.3, 0.1, -0.6, 0.4, -1.6, -1.0, -0.8, -1.5, -0.4, 0.5, 0.3, -1.3, 0.8, 0.3, 1.4, 0.9],
    [-0.6, -0.9, 0.6, -0.2, 0.8, -1.3, -0.6, -0.3, -1.1, 0.0, 0.9, 0.7, -0.9, 1.3, 0.9, 1.9, 1.4],
]

PANELS = [P01, P02, P03, P04, P05, P06, P07, P08, P09, P10, P11, P12,
          P13, P14, P15, P16, P17, P18, P19, P20, P21, P22, P23, P24]
SIZES = [41, 35, 34, 24, 23, 23, 22, 20, 16, 15, 15, 15,
         15, 14, 14, 14, 14, 13, 13, 13, 13, 12, 12, 12]
YMIN = [-2, -2, -2.5, -2, -2, -2, -2, -2, -1.5, -2, -3, -1.5,
        -2, -2, -3, -2, -1.5, -2, -2, -3, -2, -3, -2, -2]
YMAX = [3, 2.5, 2.5, 2.5, 3, 3, 2.5, 2.5, 3.5, 2.5, 4, 3,
        3, 3, 3, 3, 3.5, 3, 2.5, 3, 2.5, 3, 2.5, 2.5]
YSTEP = [0.5, 0.5, 0.5, 0.5, 0.5, 0.5, 0.5, 0.5, 0.5, 0.5, 1, 0.5,
         0.5, 0.5, 1, 0.5, 0.5, 0.5, 0.5, 1, 0.5, 1, 0.5, 0.5]
XTICKS = [0, 20, 40, 60, 80, 100, 120, 140, 160]

FONT = "Liberation Sans"
W, H = 173, 134


def make_panel(i):
    rows = []
    for g, line in enumerate(PANELS[i]):
        for t, v in zip(TIMES, line):
            rows.append({"time": t, "value": v, "gene": g})
    df = pd.DataFrame(rows)
    n = int(round((YMAX[i] - YMIN[i]) / YSTEP[i]))
    yticks = [round(YMIN[i] + k * YSTEP[i], 2) for k in range(n + 1)]
    title = f"({i + 1})\u00a0\u00a0\u00a0\u00a0Size {SIZES[i]}"
    return alt.Chart(df, title=title).mark_line(
        color="black", strokeWidth=1.6
    ).encode(
        x=alt.X("time:Q", scale=alt.Scale(domain=[0, 160], nice=False, zero=False),
                axis=alt.Axis(values=XTICKS, title="Time (minutes)", format="d")),
        y=alt.Y("value:Q", scale=alt.Scale(domain=[YMIN[i], YMAX[i]], nice=False, zero=False),
                axis=alt.Axis(values=yticks, title="Standardized expression level", format="~g")),
        detail="gene:N",
    ).properties(width=W, height=H)


rows = []
for r in range(6):
    rows.append(alt.hconcat(*[make_panel(r * 4 + c) for c in range(4)], spacing=7))

chart = alt.vconcat(*rows, spacing=19).properties(
    background="white", padding={"left": 0, "top": -14, "right": 0, "bottom": 0}
).configure_view(
    stroke="black", strokeWidth=1
).configure_axis(
    domainColor="black", tickColor="black", tickSize=2, grid=False,
    labelFont=FONT, labelFontSize=5, labelFontWeight="bold", labelColor="black",
    labelPadding=1, titleFont=FONT, titleFontSize=5, titleFontWeight="bold",
    titleColor="black", titlePadding=1,
).configure_title(
    font=FONT, fontSize=10, fontWeight="bold", color="black", offset=1
)

chart.save("out.html", embed_options={"renderer": "svg", "actions": False})
